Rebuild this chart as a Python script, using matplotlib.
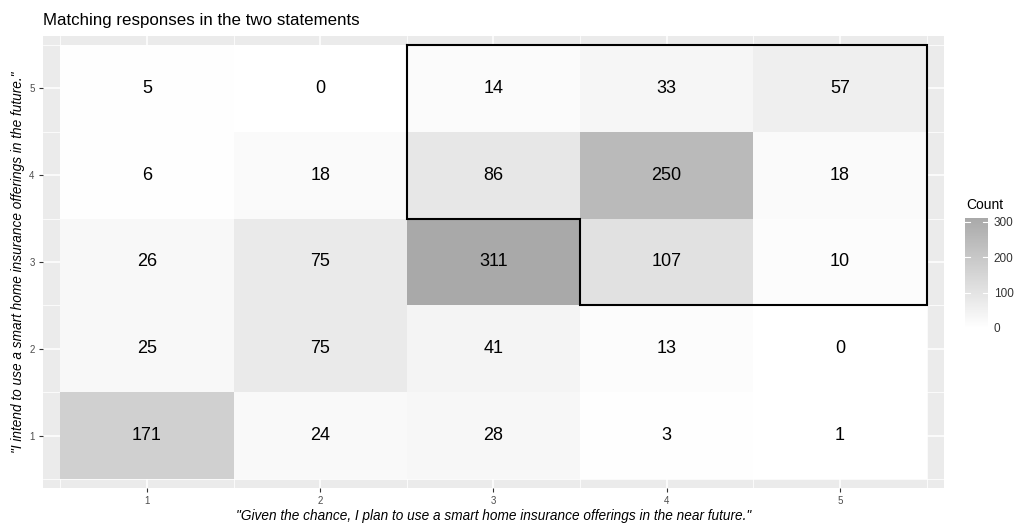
import numpy as np
import matplotlib
matplotlib.use("Agg")
import matplotlib.pyplot as plt
from matplotlib.colors import LinearSegmentedColormap, Normalize
from matplotlib.cm import ScalarMappable

plt.rcParams['font.family'] = ['Liberation Sans', 'DejaVu Sans']

# responses to each statement (1-5 scale)
plan_levels = [1, 2, 3, 4, 5]
intend_levels = [1, 2, 3, 4, 5]

# counts[row = intend level, col = plan level]
counts = [
    [171, 24, 28, 3, 1],     # intend = 1
    [25, 75, 41, 13, 0],     # intend = 2
    [26, 75, 311, 107, 10],  # intend = 3
    [6, 18, 86, 250, 18],    # intend = 4
    [5, 0, 14, 33, 57],      # intend = 5
]

# outlined region (tile-edge corners)
region_x = [2.5, 5.5, 5.5, 3.5, 3.5, 2.5, 2.5]
region_y = [5.5, 5.5, 2.5, 2.5, 3.5, 3.5, 5.5]

legend_ticks = [0, 100, 200, 300]

cmap = LinearSegmentedColormap.from_list('grey', ['#FFFFFF', '#A9A9A9'])
vals = np.array(counts)
norm = Normalize(vmin=0, vmax=vals.max())

fig = plt.figure(figsize=(10.18, 5.24), dpi=100)
ax = fig.add_axes([0.0422, 0.0687, 0.885, 0.8626])
ax.set_facecolor('#EBEBEB')

# background grid (only visible around the tiles)
for v in plan_levels:
    ax.axvline(v, color='white', lw=1.1, zorder=0)
    ax.axhline(v, color='white', lw=1.1, zorder=0)
for v in np.arange(0.5, 6, 1):
    ax.axvline(v, color='white', lw=0.55, zorder=0)
    ax.axhline(v, color='white', lw=0.55, zorder=0)

for i, y in enumerate(intend_levels):
    for j, x in enumerate(plan_levels):
        c = counts[i][j]
        ax.add_patch(plt.Rectangle((x - 0.5, y - 0.5), 1, 1,
                                   facecolor=cmap(norm(c)), edgecolor='none', zorder=1))
        ax.text(x, y, str(c), ha='center', va='center', fontsize=13,
                color='black', zorder=3)

ax.plot(region_x, region_y, color='black', lw=1.5, zorder=2,
        solid_joinstyle='miter')

ax.set_xlim(0.4, 5.6)
ax.set_ylim(0.4, 5.6)
ax.set_xticks(plan_levels)
ax.set_yticks(intend_levels)
ax.tick_params(length=3, color='#333333', labelsize=7, labelcolor='#4D4D4D', pad=3)
for s in ax.spines.values():
    s.set_visible(False)

ax.set_xlabel('"Given the chance, I plan to use a smart home insurance offerings in the near future."',
              fontsize=9.8, style='italic', labelpad=2)
ax.set_ylabel('"I intend to use a smart home insurance offerings in the future."',
              fontsize=9.8, style='italic', labelpad=3)
ax.set_title('Matching responses in the two statements', fontsize=12.2, loc='left',
             x=0, pad=8)

# colour legend
cax = fig.add_axes([965 / 1018, 1 - 328 / 524, 23 / 1018, 110 / 524])
cb = fig.colorbar(ScalarMappable(norm=norm, cmap=cmap), cax=cax, ticks=legend_ticks)
cb.outline.set_visible(False)
cax.tick_params(length=0, labelsize=8.5, labelcolor='#333333', pad=4)
for t in legend_ticks:
    cax.plot([0, 0.2], [t, t], color='white', lw=0.8, transform=cax.get_yaxis_transform())
    cax.plot([0.8, 1], [t, t], color='white', lw=0.8, transform=cax.get_yaxis_transform())
fig.text(966 / 1018, 1 - 205 / 524, 'Count', fontsize=10, va='center', ha='left')

fig.savefig('out.png', dpi=100)
